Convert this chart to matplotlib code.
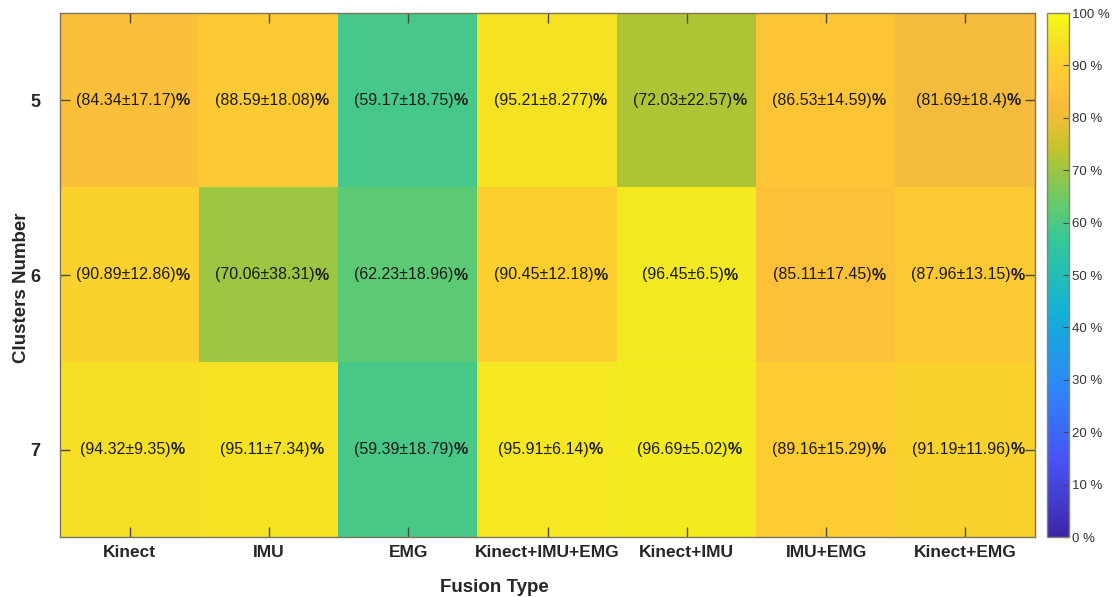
import numpy as np
import matplotlib
matplotlib.use("Agg")
import matplotlib.pyplot as plt
from matplotlib.colors import LinearSegmentedColormap

plt.rcParams['font.family'] = ['Liberation Sans', 'DejaVu Sans']

fusion_types = ["Kinect", "IMU", "EMG", "Kinect+IMU+EMG", "Kinect+IMU", "IMU+EMG", "Kinect+EMG"]
clusters = ["5", "6", "7"]

mean_5 = [84.34, 88.59, 59.17, 95.21, 72.03, 86.53, 81.69]
std_5 = [17.17, 18.08, 18.75, 8.277, 22.57, 14.59, 18.4]
mean_6 = [90.89, 70.06, 62.23, 90.45, 96.45, 85.11, 87.96]
std_6 = [12.86, 38.31, 18.96, 12.18, 6.5, 17.45, 13.15]
mean_7 = [94.32, 95.11, 59.39, 95.91, 96.69, 89.16, 91.19]
std_7 = [9.35, 7.34, 18.79, 6.14, 5.02, 15.29, 11.96]

cbar_ticks = [0, 10, 20, 30, 40, 50, 60, 70, 80, 90, 100]

means = np.array([mean_5, mean_6, mean_7])
stds = np.array([std_5, std_6, std_7])

# parula-like colormap (position, rgb)
parula_pts = [
    (0.0000, (0.2422, 0.1504, 0.6603)),
    (0.1429, (0.2810, 0.3228, 0.9579)),
    (0.2857, (0.1786, 0.5289, 0.9682)),
    (0.4286, (0.0689, 0.6948, 0.8394)),
    (0.5714, (0.2161, 0.7843, 0.5923)),
    (0.6350, (0.3936, 0.7924, 0.4338)),
    (0.6980, (0.5978, 0.7753, 0.2686)),
    (0.7300, (0.7228, 0.7701, 0.1879)),
    (0.7620, (0.8264, 0.7610, 0.1834)),
    (0.7940, (0.9152, 0.7492, 0.2096)),
    (0.8250, (0.9718, 0.7303, 0.2418)),
    (0.8570, (0.9970, 0.7659, 0.2199)),
    (0.9050, (0.9892, 0.8136, 0.1885)),
    (0.9370, (0.9689, 0.8621, 0.1547)),
    (0.9680, (0.9598, 0.9218, 0.1248)),
    (1.0000, (0.9769, 0.9839, 0.0805)),
]
parula = LinearSegmentedColormap.from_list("parula", parula_pts, N=256)

W, H = 1112, 597
fig = plt.figure(figsize=(W / 100, H / 100), dpi=100)
ax = fig.add_axes([60 / W, 1 - 537 / H, 975 / W, 524 / H])
cax = fig.add_axes([1047 / W, 1 - 537 / H, 22 / W, 524 / H])

n_rows, n_cols = means.shape
im = ax.imshow(means, cmap=parula, vmin=0, vmax=100, aspect='auto',
               extent=(-0.5, n_cols - 0.5, n_rows - 0.5, -0.5),
               interpolation='nearest')

edge = '#7d7658'
for s in ax.spines.values():
    s.set_color(edge)
    s.set_linewidth(1.0)

ax.set_xticks(range(n_cols))
ax.set_xticklabels(fusion_types, fontsize=12.5, fontweight='bold', color='#262626')
ax.set_yticks(range(n_rows))
ax.set_yticklabels(clusters, fontsize=13, fontweight='bold', color='#262626')
ax.tick_params(axis='both', direction='in', length=7, width=1.0, color='#4a4a3a',
               top=True, right=True)
ax.tick_params(axis='x', pad=6)
ax.tick_params(axis='y', pad=14)

ax.set_xlabel("Fusion Type", fontsize=13.5, fontweight='bold', color='#262626')
ax.xaxis.set_label_coords(0.446, -0.08)
ax.set_ylabel("Clusters Number", fontsize=13.5, fontweight='bold', color='#262626')
ax.yaxis.set_label_coords(-0.031, 0.476)

for i in range(n_rows):
    for j in range(n_cols):
        body = f"({means[i, j]:g}±{stds[i, j]:g})"
        t = ax.text(j - 0.03, i, body, ha='center', va='center',
                    fontsize=11.5, color='#1a1a1a')
        ax.annotate('%', xy=(1, 0.5), xycoords=t, ha='left', va='center',
                    fontsize=11.5, fontweight='bold', color='#1a1a1a')

cb = fig.colorbar(im, cax=cax, ticks=cbar_ticks)
cb.outline.set_edgecolor('#8a8470')
cb.outline.set_linewidth(1.0)
cb.ax.tick_params(direction='in', length=4, width=0.8, color='#4a4a3a',
                  labelsize=9.5, labelcolor='#333333', pad=2)
cb.ax.set_yticklabels([f"{v} %" for v in cbar_ticks])

fig.savefig("out.png", dpi=100)
